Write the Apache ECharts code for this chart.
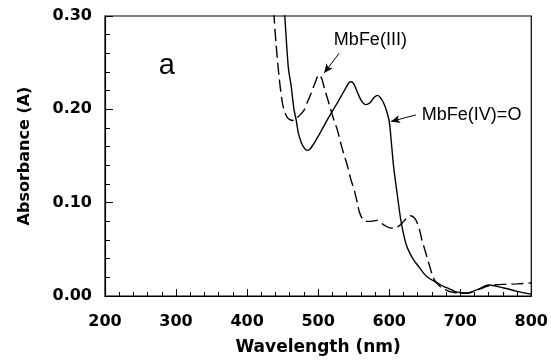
<!DOCTYPE html>
<html>
<head>
<meta charset="utf-8">
<script src="https://cdn.jsdelivr.net/npm/echarts@6/dist/echarts.min.js"></script>
<style>
html, body { margin: 0; padding: 0; background: #fff; }
#main { width: 551px; height: 362px; }
</style>
</head>
<body>
<div id="main"></div>
<script>
// MbFe(III) spectrum (dashed)
var metWl  = [430, 435, 438, 441, 445, 449, 452, 456, 460, 466, 472, 480, 485, 490, 496, 501, 505, 509, 513, 518, 522, 527, 532, 537, 541, 546, 551, 555, 558, 562, 566, 574, 583, 589, 595, 601, 607, 612, 618, 624, 630, 635, 639, 643, 646, 650, 653, 657, 660, 664, 667, 672, 677, 684, 690, 698, 706, 716, 726, 733, 740, 750, 763, 780, 800];
var metAbs = [0.45, 0.36, 0.30, 0.268, 0.235, 0.21, 0.199, 0.192, 0.189, 0.188, 0.192, 0.199, 0.208, 0.217, 0.229, 0.237, 0.233, 0.222, 0.212, 0.199, 0.189, 0.178, 0.163, 0.150, 0.140, 0.125, 0.113, 0.100, 0.090, 0.083, 0.080, 0.080, 0.081, 0.078, 0.075, 0.073, 0.0725, 0.074, 0.078, 0.083, 0.086, 0.084, 0.079, 0.070, 0.060, 0.050, 0.042, 0.032, 0.024, 0.017, 0.0135, 0.010, 0.008, 0.005, 0.004, 0.003, 0.003, 0.004, 0.007, 0.009, 0.011, 0.012, 0.0125, 0.013, 0.014];

// MbFe(IV)=O spectrum (solid)
var ferWl  = [440, 445, 450, 453, 458, 462, 466, 469, 472, 476, 480, 484, 488, 492, 497, 503, 508, 513, 520, 527, 533, 539, 544, 547, 551, 556, 561, 567, 573, 579, 584, 588, 592, 596, 600, 603, 606, 609, 612, 616, 620, 624, 629, 635, 642, 649, 656, 663, 670, 677, 684, 692, 702, 710, 716, 725, 733, 740, 748, 756, 765, 780, 800];
var ferAbs = [0.48, 0.40, 0.33, 0.30, 0.245, 0.225, 0.200, 0.189, 0.175, 0.165, 0.159, 0.156, 0.157, 0.161, 0.167, 0.175, 0.182, 0.189, 0.198, 0.207, 0.215, 0.223, 0.229, 0.2295, 0.226, 0.217, 0.209, 0.205, 0.207, 0.213, 0.215, 0.212, 0.207, 0.199, 0.187, 0.165, 0.140, 0.122, 0.105, 0.083, 0.067, 0.055, 0.046, 0.038, 0.031, 0.024, 0.019, 0.016, 0.013, 0.010, 0.008, 0.005, 0.0035, 0.003, 0.0045, 0.007, 0.010, 0.0118, 0.011, 0.0095, 0.008, 0.005, 0.002];

var xTicks = [200, 300, 400, 500, 600, 700, 800];
var yTicks = [0.00, 0.10, 0.20, 0.30];

function pairs(xs, ys) {
    var out = [];
    for (var i = 0; i < xs.length; i++) out.push([xs[i], ys[i]]);
    return out;
}

var chart = echarts.init(document.getElementById('main'));
var boldFont = 'DejaVu Sans, Arial, sans-serif';
var plainFont = 'Liberation Sans, Arial, sans-serif';

var option = {
    animation: false,
    backgroundColor: '#fff',
    grid: {
        left: 105,
        right: 18,
        top: 16,
        bottom: 66,
        show: true,
        borderColor: '#000',
        borderWidth: 1.2
    },
    xAxis: {
        type: 'value',
        min: xTicks[0],
        max: xTicks[xTicks.length - 1],
        interval: 100,
        name: 'Wavelength (nm)',
        nameLocation: 'middle',
        nameGap: 43,
        nameTextStyle: { color: '#000', fontFamily: boldFont, fontWeight: 'bold', fontSize: 17 },
        axisLine: { lineStyle: { color: '#000', width: 1.2 } },
        axisTick: { inside: true, length: 7, lineStyle: { color: '#000' } },
        minorTick: { show: true, splitNumber: 5, length: 4, lineStyle: { color: '#000' } },
        splitLine: { show: false },
        axisLabel: { margin: 18, color: '#000', fontFamily: boldFont, fontWeight: 'bold', fontSize: 16 }
    },
    yAxis: {
        type: 'value',
        min: yTicks[0],
        max: yTicks[yTicks.length - 1],
        interval: 0.1,
        name: 'Absorbance (A)',
        nameLocation: 'middle',
        nameGap: 72,
        nameTextStyle: { color: '#000', fontFamily: boldFont, fontWeight: 'bold', fontSize: 16 },
        axisLine: { show: true, lineStyle: { color: '#000', width: 1.2 } },
        axisTick: { show: true, inside: true, length: 8, lineStyle: { color: '#000' } },
        minorTick: { show: true, splitNumber: 5, length: 5, lineStyle: { color: '#000' } },
        splitLine: { show: false },
        axisLabel: {
            margin: 13,
            color: '#000',
            fontFamily: boldFont,
            fontWeight: 'bold',
            fontSize: 16,
            formatter: function (v) { return v.toFixed(2); }
        }
    },
    series: [
        {
            name: 'MbFe(III)',
            type: 'line',
            data: pairs(metWl, metAbs),
            showSymbol: false,
            smooth: 0.3,
            clip: true,
            lineStyle: { color: '#000', width: 1.4, type: [12, 5] },
            markLine: {
                silent: true,
                symbol: ['none', 'arrow'],
                symbolSize: [6, 9],
                lineStyle: { color: '#000', width: 1, type: 'solid' },
                label: { show: false },
                data: [
                    [{ coord: [529.5, 0.260] }, { coord: [508.5, 0.239] }],
                    [{ coord: [637.5, 0.194] }, { coord: [602.5, 0.187] }]
                ]
            },
            markPoint: {
                silent: true,
                symbol: 'circle',
                symbolSize: 0,
                label: {
                    show: true,
                    position: 'inside',
                    color: '#000',
                    fontFamily: plainFont,
                    fontSize: 18,
                    formatter: '{b}'
                },
                data: [
                    { name: 'MbFe(III)', coord: [573.5, 0.274] },
                    { name: 'MbFe(IV)=O', coord: [716, 0.1935] },
                    { name: 'a', coord: [287, 0.246], label: { fontSize: 29 } }
                ]
            }
        },
        {
            name: 'MbFe(IV)=O',
            type: 'line',
            data: pairs(ferWl, ferAbs),
            showSymbol: false,
            smooth: 0.3,
            clip: true,
            lineStyle: { color: '#000', width: 1.4 }
        }
    ]
};
chart.setOption(option);
</script>
</body>
</html>
